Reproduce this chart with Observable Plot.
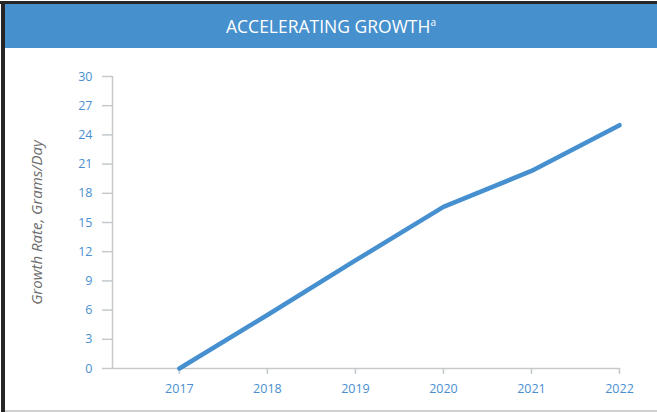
<!DOCTYPE html>
<html>
<head>
<meta charset="utf-8">
<script src="https://cdn.jsdelivr.net/npm/d3@7"></script>
<script src="https://cdn.jsdelivr.net/npm/@observablehq/plot@0.6"></script>
<style>
  html, body { margin: 0; padding: 0; background: #fff; }
  #wrap { position: relative; width: 657px; height: 412px; overflow: hidden; background: #fff; font-family: "Open Sans", sans-serif; }
  #topline { position: absolute; left: 0; top: 1px; width: 657px; height: 3px; background: #262626; }
  #leftline { position: absolute; left: 1px; top: 1px; width: 4px; height: 411px; background: #262626; }
  #bottomline { position: absolute; left: 5px; top: 410px; width: 652px; height: 2px; background: #cfcfcf; }
  #header { position: absolute; left: 5px; top: 4px; width: 652px; height: 44px; background: #4690cd; color: #fff;
            font-size: 17.5px; line-height: 44px; text-align: center; font-family: "Open Sans", sans-serif; }
  #header sup { font-size: 10px; vertical-align: 0; position: relative; top: -7px; }
  #chart { position: absolute; left: 0; top: 48px; }
</style>
</head>
<body>
<div id="wrap">
  <div id="header">ACCELERATING GROWTH<sup>a</sup></div>
  <div id="topline"></div>
  <div id="leftline"></div>
  <div id="bottomline"></div>
  <div id="chart"></div>
</div>
<script>
const years = [2017, 2018, 2019, 2020, 2021, 2022];
const growth = [0, 5.5, 11.1, 16.6, 20.3, 25.0];
const yTicks = [0, 3, 6, 9, 12, 15, 18, 21, 24, 27, 30];
const yLabel = "Growth Rate, Grams/Day";

const data = years.map((y, i) => ({year: y, value: growth[i]}));
const xDomain = [2016.24, 2022];
const axisGrey = "#c5c9cc";
const tickBlue = "#4a8fd0";

const plot = Plot.plot({
  width: 657,
  height: 362,
  marginLeft: 112,
  marginRight: 38,
  marginTop: 28,
  marginBottom: 42,
  style: {fontFamily: "Open Sans, sans-serif", fontSize: "12.5px", background: "transparent"},
  x: {domain: xDomain, axis: null},
  y: {domain: [0, 30], axis: null},
  marks: [
    Plot.axisY({ticks: yTicks, tickSize: 10, tickPadding: 10, stroke: axisGrey, fill: tickBlue, label: null, tickFormat: d => String(d), strokeWidth: 1.5}),
    Plot.axisX({ticks: years, tickSize: 6, tickPadding: 10, stroke: axisGrey, fill: tickBlue, label: null, tickFormat: d => String(d), strokeWidth: 1.5}),
    Plot.ruleX([xDomain[0]], {y1: 0, y2: 30, stroke: axisGrey, strokeWidth: 1.5}),
    Plot.ruleY([0], {stroke: axisGrey, strokeWidth: 1.5}),
    Plot.line(data, {x: "year", y: "value", stroke: "#4690d0", strokeWidth: 4.5, strokeLinecap: "round", strokeLinejoin: "round"}),
    Plot.text([yLabel], {frameAnchor: "left", dx: -75, rotate: -90, textAnchor: "middle", fill: "#6d6d6d", fontStyle: "italic", fontSize: 15})
  ]
});
document.getElementById("chart").appendChild(plot);
</script>
</body>
</html>
